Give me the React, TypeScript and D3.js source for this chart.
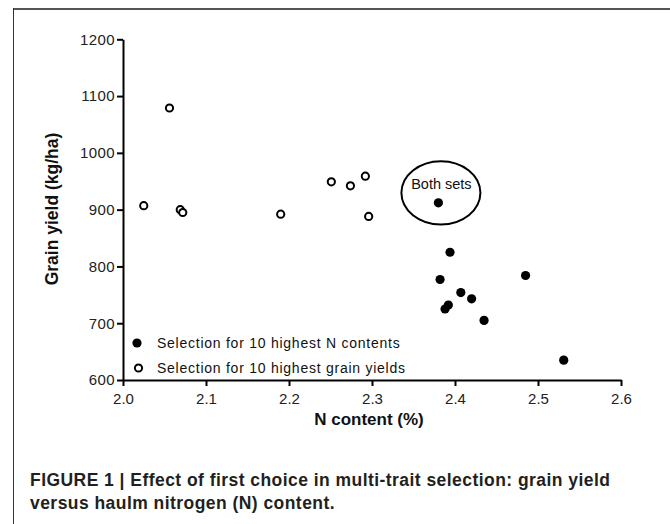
import { useRef, useEffect } from 'react';
import * as d3 from 'd3';

// Selection for 10 highest N contents (filled). The first one is also in the other set ("Both sets").
const nContentHighN = [2.38, 2.394, 2.382, 2.485, 2.407, 2.42, 2.392, 2.388, 2.435, 2.531];
const yieldHighN = [912, 825, 777, 784, 754, 743, 732, 725, 705, 635];

// Selection for 10 highest grain yields (open), without the shared point
const nContentHighYield = [2.025, 2.056, 2.069, 2.072, 2.19, 2.251, 2.274, 2.292, 2.296];
const yieldHighYield = [907, 1079, 900, 895, 892, 949, 942, 959, 888];

const xTicks = [2.0, 2.1, 2.2, 2.3, 2.4, 2.5, 2.6];
const yTicks = [600, 700, 800, 900, 1000, 1100, 1200];

const legendLabels = ['Selection for 10 highest N contents', 'Selection for 10 highest grain yields'];

const W = 670;
const H = 524;
const PLOT = { left: 123, right: 621, top: 39.3, bottom: 380 };
const AXIS_FONT = '"Liberation Sans", Arial, sans-serif';
const CAPTION_FONT = '"Liberation Sans", Arial, Helvetica, sans-serif';

export default function App() {
  const svgRef = useRef<SVGSVGElement>(null);

  useEffect(() => {
    const svg = svgRef.current;
    if (!svg) return;
    const root = d3.select(svg);
    root.selectAll('*').remove();

    const x = d3.scaleLinear().domain([2.0, 2.6]).range([PLOT.left, PLOT.right]);
    const y = d3.scaleLinear().domain([600, 1200]).range([PLOT.bottom, PLOT.top]);

    // Frame around the figure
    root.append('line').attr('x1', 13).attr('x2', W).attr('y1', 9).attr('y2', 9)
      .attr('stroke', '#555').attr('stroke-width', 2);
    root.append('line').attr('x1', 13.5).attr('x2', 13.5).attr('y1', 8).attr('y2', H)
      .attr('stroke', '#333').attr('stroke-width', 1);

    // Axes
    const xG = root.append('g').attr('transform', `translate(0,${PLOT.bottom})`)
      .call(d3.axisBottom(x).tickValues(xTicks).tickFormat(d3.format('.1f')).tickSize(6).tickSizeOuter(0));
    xG.select('.domain').attr('stroke', '#000').attr('stroke-width', 2);
    xG.selectAll('line').attr('stroke', '#000').attr('stroke-width', 2);
    xG.selectAll('text').attr('fill', '#222').attr('font-family', AXIS_FONT).attr('font-size', '15px')
      .attr('dy', '0').attr('y', 23.5);

    const yG = root.append('g').attr('transform', `translate(${PLOT.left},0)`)
      .call(d3.axisLeft(y).tickValues(yTicks).tickFormat(d3.format('d')).tickSize(6).tickSizeOuter(0));
    yG.select('.domain').attr('stroke', '#000').attr('stroke-width', 2);
    yG.selectAll('line').attr('stroke', '#000').attr('stroke-width', 2);
    yG.selectAll('text').attr('fill', '#222').attr('font-family', AXIS_FONT).attr('font-size', '15px')
      .attr('letter-spacing', '0.4px').attr('x', -8);
    root.selectAll('.tick').attr('font-family', null).attr('font-size', null);

    // Axis titles
    root.append('text').attr('x', 369).attr('y', 425).attr('text-anchor', 'middle')
      .attr('font-family', AXIS_FONT).attr('font-size', '17px').attr('font-weight', 700).attr('fill', '#111')
      .text('N content (%)');
    root.append('text').attr('transform', `translate(58,209) rotate(-90)`).attr('text-anchor', 'middle')
      .attr('font-family', AXIS_FONT).attr('font-size', '17.5px').attr('font-weight', 700).attr('fill', '#111')
      .text('Grain yield (kg/ha)');

    // Points
    root.append('g').selectAll('circle').data(d3.range(nContentHighYield.length)).join('circle')
      .attr('cx', i => x(nContentHighYield[i])).attr('cy', i => y(yieldHighYield[i]))
      .attr('r', 3.6).attr('fill', '#fff').attr('stroke', '#000').attr('stroke-width', 2);
    root.append('g').selectAll('circle').data(d3.range(nContentHighN.length)).join('circle')
      .attr('cx', i => x(nContentHighN[i])).attr('cy', i => y(yieldHighN[i]))
      .attr('r', 4.6).attr('fill', '#000');

    // "Both sets" annotation
    const bx = x(nContentHighN[0]);
    const by = y(yieldHighN[0]);
    root.append('ellipse').attr('cx', bx + 2.5).attr('cy', by - 10).attr('rx', 39.5).attr('ry', 31.7)
      .attr('fill', 'none').attr('stroke', '#000').attr('stroke-width', 2);
    root.append('text').attr('x', bx + 3).attr('y', by - 14).attr('text-anchor', 'middle')
      .attr('font-family', AXIS_FONT).attr('font-size', '14.5px').attr('fill', '#111')
      .text('Both sets');

    // Legend
    const legend = root.append('g').attr('transform', 'translate(137,343)');
    legend.append('circle').attr('cx', 0).attr('cy', 0).attr('r', 4.6).attr('fill', '#000');
    legend.append('circle').attr('cx', 1.5).attr('cy', 25).attr('r', 3.6).attr('fill', '#fff')
      .attr('stroke', '#000').attr('stroke-width', 2);
    legendLabels.forEach((label, i) => {
      legend.append('text').attr('x', 20).attr('y', 5 + i * 24.5)
        .attr('font-family', AXIS_FONT).attr('font-size', '14px').attr('letter-spacing', '0.75px').attr('fill', '#111')
        .text(label);
    });

    // Caption
    const caption = root.append('text').attr('font-family', CAPTION_FONT).attr('font-size', '17.5px')
      .attr('font-weight', 700).attr('letter-spacing', '0.45px').attr('fill', '#231f20');
    caption.append('tspan').attr('x', 30).attr('y', 485.5)
      .text('FIGURE 1 | Effect of first choice in multi-trait selection: grain yield');
    caption.append('tspan').attr('x', 30).attr('y', 509)
      .text('versus haulm nitrogen (N) content.');
  }, []);

  return (
    <svg ref={svgRef} width={W} height={H} viewBox={`0 0 ${W} ${H}`}
      style={{ position: 'absolute', left: 0, top: 0, background: '#fff', display: 'block' }} />
  );
}
